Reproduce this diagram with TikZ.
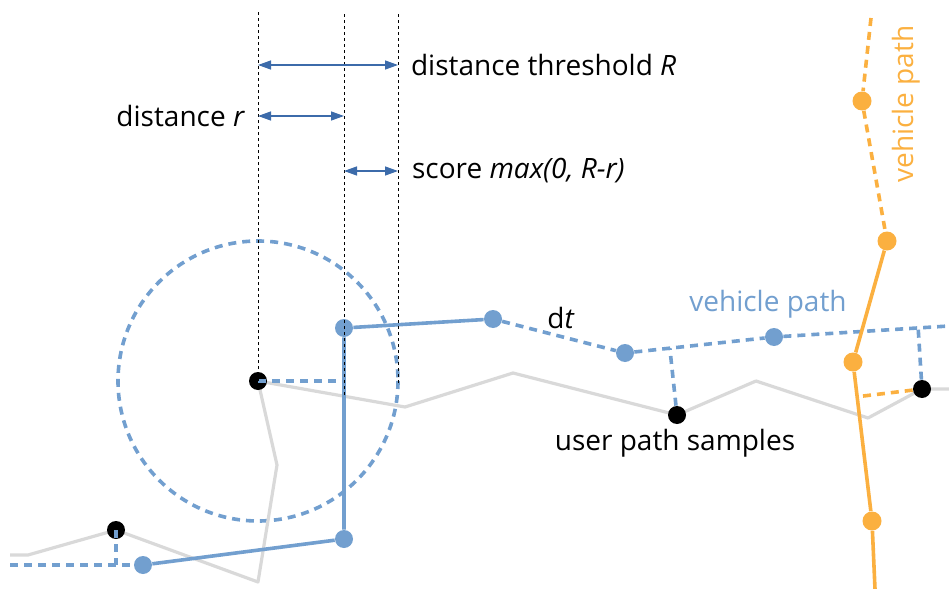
\documentclass[tikz,border=0pt]{standalone}
\usepackage{fontspec}
\setmainfont{Open Sans}
\usetikzlibrary{arrows.meta,backgrounds,calc}
\definecolor{vehblue}{HTML}{729FCF}
\definecolor{vehorange}{HTML}{FBB040}
\definecolor{usergrey}{HTML}{D9D9D9}
\definecolor{dimblue}{HTML}{3C6BAA}
\definecolor{ink}{HTML}{000000}
\tikzset{
  userline/.style={draw=usergrey, line width=1.6pt, line join=round},
  vehline/.style={draw=vehblue, line width=1.8pt},
  vehdash/.style={vehline, dash pattern=on 4pt off 3pt},
  orgline/.style={draw=vehorange, line width=1.8pt},
  orgdash/.style={orgline, dash pattern=on 4pt off 3pt},
  guide/.style={draw=ink, line width=0.5pt, dash pattern=on 1.5pt off 1.5pt},
  dim/.style={{Triangle[length=6.5pt,width=4.5pt]}-{Triangle[length=6.5pt,width=4.5pt]},
    draw=dimblue, line width=0.7pt},
  sample/.style={circle, fill=ink, minimum size=9pt, inner sep=0pt},
  vdot/.style={circle, fill=vehblue, minimum size=9pt, inner sep=0pt},
  odot/.style={circle, fill=vehorange, minimum size=9.5pt, inner sep=0pt}
}

\begin{document}
\begin{tikzpicture}[x=0.5pt, y=-0.5pt, font=\fontsize{14}{16}\selectfont]
  \useasboundingbox (0,0) rectangle (949,589);

  % user path samples
  \node[sample] (u1) at (116,530) {};
  \node[sample] (u2) at (258,381) {};
  \node[sample] (u3) at (677,415) {};
  \node[sample] (u4) at (922,389) {};

  \coordinate (p0) at (10,555);
  \coordinate (p1) at (28,555);
  \coordinate (p2) at (258,582);
  \coordinate (p3) at (277,465);
  \coordinate (p4) at (405,407);
  \coordinate (p5) at (513,373);
  \coordinate (p6) at (756,381);
  \coordinate (p7) at (868,418);
  \coordinate (p8) at (949,389);
  \begin{scope}[on background layer]
    \draw[vehdash] (u2.center) circle[radius=140];
    \draw[userline] (p0) -- (p1) -- (u1.center) -- (p2) -- (p3) -- (u2.center)
      -- (p4) -- (p5) -- (u3.center) -- (p6) -- (p7) -- (u4.center) -- (p8);
  \end{scope}

  % blue vehicle path
  \coordinate (b0) at (10,565);
  \node[vdot] (b1) at (143,565) {};
  \node[vdot] (b2) at (344,539) {};
  \node[vdot] (b3) at (344,328) {};
  \node[vdot] (b4) at (493,319) {};
  \node[vdot] (b5) at (625,353) {};
  \node[vdot] (b6) at (774,337) {};
  \coordinate (b7) at (949,326);
  \draw[vehdash] (b0) -- (b1);
  \draw[vehline] (b1) -- (b2) -- (b3) -- (b4);
  \draw[vehdash] (b4) -- (b5) -- (b6) -- (b7);

  % orange vehicle path
  \coordinate (o0) at (871,18);
  \node[odot] (o1) at (862,101) {};
  \node[odot] (o2) at (887,241) {};
  \node[odot] (o3) at (853,362) {};
  \node[odot] (o4) at (872,521) {};
  \coordinate (o5) at (875,589);
  \draw[orgdash] (o0) -- (o1) -- (o2);
  \draw[orgline] (o2) -- (o3) -- (o4) -- (o5);

  % projections onto the paths
  \coordinate (f1) at ($(b0)!(u1.center)!(b1.center)$);
  \coordinate (f2) at ($(b2.center)!(u2.center)!(b3.center)$);
  \coordinate (f3) at ($(b5.center)!(u3.center)!(b6.center)$);
  \coordinate (f4) at ($(b6.center)!(u4.center)!(b7)$);
  \coordinate (g4) at ($(o3.center)!(u4.center)!(o4.center)$);
  \draw[vehdash] (u1.center) -- (f1);
  \draw[vehdash] (u2.center) -- (f2);
  \draw[vehdash] (u3) -- (f3);
  \draw[vehdash] (u4) -- (f4);
  \draw[orgdash] (u4) -- (g4);

  % labels
  \node[anchor=west] (thr) at (404,65) {distance threshold \textit{R}};
  \node[anchor=east] (dist) at (252,116) {distance \textit{r}};
  \node[anchor=west] (score) at (405,171) {score \textit{max(0, R-r)}};
  \node (dt) at (561,318) {d\textit{t}};
  \node[text=vehblue] (vlabel) at (768,304) {vehicle path};
  \node (ulabel) at (675,443) {user path samples};
  \node[text=vehorange, rotate=90] (olabel) at (906,104) {vehicle path};

  % guides and distances
  \coordinate (ga) at (258,12);
  \coordinate (gb) at (344,12);
  \coordinate (gc) at (398,12);
  \coordinate (gbend) at (344,395);
  \coordinate (gcend) at (398,383);
  \draw[guide] (u2.center) -- (ga);
  \draw[guide] (gbend) -- (gb);
  \draw[guide] (gcend) -- (gc);
  \draw[dim] (ga |- thr.west) -- (gc |- thr.west);
  \draw[dim] (ga |- dist.east) -- (gb |- dist.east);
  \draw[dim] (gb |- score.west) -- (gc |- score.west);
\end{tikzpicture}
\end{document}
